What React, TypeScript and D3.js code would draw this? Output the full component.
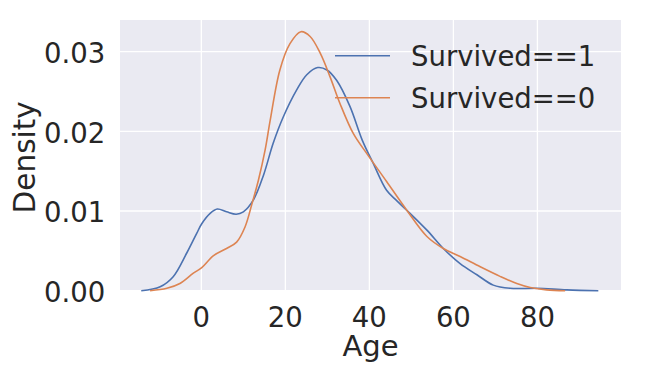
import * as d3 from 'd3';

// KDE curves (age, density)
const survivedAge = [-14.3, -9.8, -6.7, -3.5, -1.1, 0.1, 2.1, 3.8, 6.0, 8.3, 10.0, 12.4, 14.8, 17.1, 19.5, 22.7, 25.1, 27.7, 29.9, 32.2, 35.4, 38.3, 40.9, 44.1, 46.5, 48.9, 53.7, 57.6, 61.6, 65.6, 69.5, 73.5, 79.9, 87.0, 94.5];
const survivedDensity = [0, 0.0005, 0.00176, 0.0047, 0.0072, 0.0084, 0.0097, 0.01025, 0.0099, 0.0096, 0.0099, 0.0114, 0.0145, 0.0185, 0.0218, 0.0252, 0.0271, 0.028, 0.0277, 0.0264, 0.0231, 0.0189, 0.016, 0.0126, 0.0113, 0.0101, 0.0076, 0.0053, 0.0034, 0.002, 0.0007, 0.0003, 0.0003, 0.0001, 0];

const diedAge = [-12.2, -8.2, -5.1, -1.9, 0.1, 2.9, 6.0, 8.4, 10.4, 12.0, 13.6, 15.2, 16.4, 18.7, 21.1, 23.7, 25.9, 28.3, 30.6, 33.0, 36.2, 39.4, 44.1, 48.9, 53.7, 57.6, 61.6, 66.4, 71.1, 75.1, 78.3, 82.2, 86.6];
const diedDensity = [0, 0.0003, 0.0009, 0.0022, 0.0029, 0.0044, 0.0053, 0.0061, 0.008, 0.0108, 0.0139, 0.0177, 0.0214, 0.0277, 0.031, 0.0325, 0.0319, 0.0298, 0.0269, 0.0235, 0.0197, 0.0172, 0.0137, 0.0101, 0.0068, 0.0053, 0.0043, 0.003, 0.0018, 0.0009, 0.0004, 0.0001, 0];

const xTicks = [0, 20, 40, 60, 80];
const yTicks = [0, 0.01, 0.02, 0.03];
const seriesNames = ['Survived==1', 'Survived==0'];
const colors = ['#4C72B0', '#DD8452'];

const width = 660;
const height = 374;
const plot = { left: 120, right: 621, top: 20, bottom: 290.7 };
const font = '"DejaVu Sans", sans-serif';
const ink = '#262626';

export default function App() {
  const x = d3.scaleLinear().domain([-19.36, 99.9]).range([plot.left, plot.right]);
  const y = d3.scaleLinear().domain([0, 0.03397]).range([plot.bottom, plot.top]);

  const line = d3.line<[number, number]>()
    .x(d => x(d[0]))
    .y(d => Math.min(plot.bottom, y(d[1])))
    .curve(d3.curveCatmullRom.alpha(0.5));

  const series = [
    d3.zip(survivedAge, survivedDensity) as [number, number][],
    d3.zip(diedAge, diedDensity) as [number, number][],
  ];

  return (
    <svg width={width} height={height} style={{ position: 'absolute', left: 0, top: 0 }}>
      <rect x={plot.left} y={plot.top} width={plot.right - plot.left} height={plot.bottom - plot.top} fill="#EAEAF2" />
      {xTicks.map(t => (
        <line key={'gx' + t} x1={x(t)} x2={x(t)} y1={plot.top} y2={plot.bottom} stroke="white" strokeWidth={1.3} />
      ))}
      {yTicks.map(t => (
        <line key={'gy' + t} x1={plot.left} x2={plot.right} y1={y(t)} y2={y(t)} stroke="white" strokeWidth={1.3} />
      ))}
      {series.map((s, i) => (
        <path key={i} d={line(s) ?? ''} fill="none" stroke={colors[i]} strokeWidth={1.6} />
      ))}
      {xTicks.map(t => (
        <text key={'tx' + t} x={x(t)} y={326.7} textAnchor="middle" fontFamily={font} fontSize={27.5} fill={ink}>
          {t}
        </text>
      ))}
      {yTicks.map(t => (
        <text key={'ty' + t} x={105.3} y={y(t) + 11.4} textAnchor="end" fontFamily={font} fontSize={27.5} fill={ink}>
          {d3.format('.2f')(t)}
        </text>
      ))}
      <text x={(plot.left + plot.right) / 2} y={355.7} textAnchor="middle" fontFamily={font} fontSize={29} fill={ink}>
        Age
      </text>
      <text
        transform={`translate(34.8,${(plot.top + plot.bottom) / 2 + 2}) rotate(-90)`}
        textAnchor="middle"
        fontFamily={font}
        fontSize={29.5}
        fill={ink}
      >
        Density
      </text>
      {seriesNames.map((name, i) => {
        const ly = 55.7 + i * 42;
        return (
          <g key={name}>
            <line x1={335} x2={390} y1={ly} y2={ly} stroke={colors[i]} strokeWidth={1.6} />
            <text x={411} y={ly + 10.6} fontFamily={font} fontSize={27.5} fill={ink}>
              {name}
            </text>
          </g>
        );
      })}
    </svg>
  );
}
